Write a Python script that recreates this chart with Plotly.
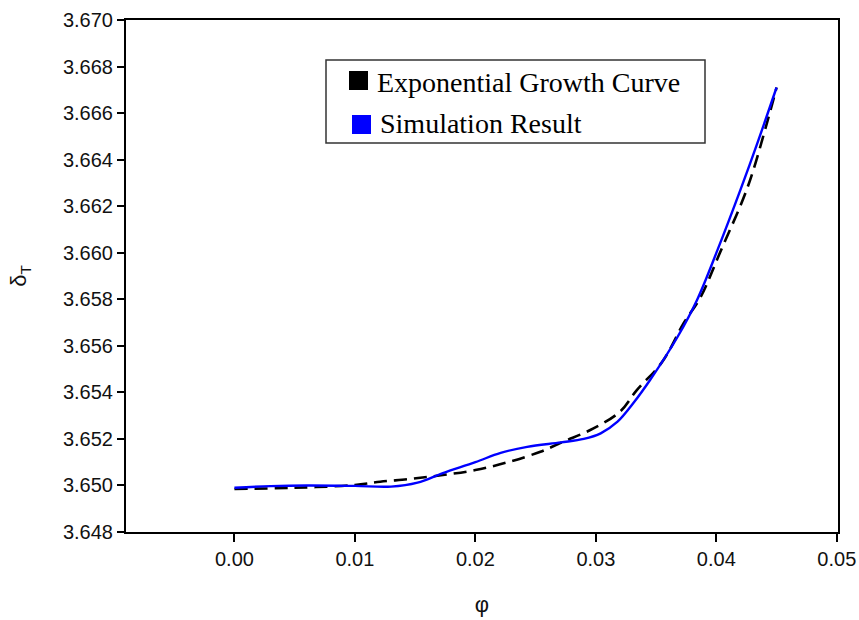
import plotly.graph_objects as go

# Simulation result: delta_T versus phi
sim_phi = [0.000, 0.003, 0.006, 0.010, 0.013, 0.0152, 0.0173, 0.0200, 0.0221,
           0.0243, 0.0271, 0.0290, 0.0304, 0.0318, 0.0331, 0.0345, 0.0368,
           0.0384, 0.0401, 0.0420, 0.0434, 0.0450]
sim_delta = [3.64990, 3.64997, 3.65000, 3.64998, 3.64995, 3.65012, 3.65053,
             3.65100, 3.65140, 3.65166, 3.65185, 3.65200, 3.65224, 3.65274,
             3.65353, 3.65453, 3.65640, 3.65797, 3.66012, 3.66270, 3.66470,
             3.66710]

# Fitted exponential growth curve
fit_phi = [0.000, 0.005, 0.010, 0.0121, 0.0146, 0.0173, 0.0200, 0.0227,
           0.0254, 0.0273, 0.0298, 0.0320, 0.0334, 0.0355, 0.0373, 0.0387,
           0.0403, 0.0426, 0.0442, 0.0450]
fit_delta = [3.64985, 3.64990, 3.65002, 3.65016, 3.65028, 3.65045, 3.65066,
             3.65100, 3.65145, 3.65188, 3.65245, 3.65317, 3.65410, 3.65530,
             3.65698, 3.65810, 3.66000, 3.66282, 3.66557, 3.66710]

x_ticks = [0.00, 0.01, 0.02, 0.03, 0.04, 0.05]
y_ticks = [3.648, 3.650, 3.652, 3.654, 3.656, 3.658, 3.660, 3.662, 3.664,
           3.666, 3.668, 3.670]

series_names = ["Exponential Growth Curve", "Simulation Result"]
series_colors = ["#000000", "#0000ff"]

W, H = 859, 620
M_L, M_R, M_T, M_B = 126, 21, 20, 88
PW, PH = W - M_L - M_R, H - M_T - M_B


def px(x):
    """horizontal pixel -> paper fraction"""
    return (x - M_L) / PW


def py(y):
    """vertical pixel (from top) -> paper fraction"""
    return (H - M_B - y) / PH


fig = go.Figure()

fig.add_trace(go.Scatter(
    x=fit_phi, y=fit_delta, mode="lines", line_shape="spline",
    name=series_names[0], showlegend=False,
    line=dict(color=series_colors[0], width=2.6, dash="13px,7px"),
))
fig.add_trace(go.Scatter(
    x=sim_phi, y=sim_delta, mode="lines", line_shape="spline",
    name=series_names[1], showlegend=False,
    line=dict(color=series_colors[1], width=2.4),
))

# boxed key with square swatches
shapes = [dict(type="rect", xref="paper", yref="paper",
               x0=px(326), x1=px(705), y0=py(143), y1=py(60),
               line=dict(color="#333", width=1.5), fillcolor="white", layer="above")]
annotations = []
key_rows = [(349, 71, 82), (352, 115, 123)]  # swatch left, swatch top, text centre
for (sx, sy, ty), name, color in zip(key_rows, series_names, series_colors):
    shapes.append(dict(type="rect", xref="paper", yref="paper",
                       x0=px(sx), x1=px(sx + 19), y0=py(sy + 19), y1=py(sy),
                       line=dict(width=0), fillcolor=color, layer="above"))
    annotations.append(dict(
        xref="paper", yref="paper", x=px(sx + 26), y=py(ty),
        xanchor="left", yanchor="middle", showarrow=False, text=name,
        font=dict(family="Liberation Serif, Times New Roman, serif", size=28, color="#000"),
    ))

fig.update_layout(
    width=W, height=H,
    margin=dict(l=M_L, r=M_R, t=M_T, b=M_B),
    plot_bgcolor="white", paper_bgcolor="white",
    font=dict(family="Liberation Sans, Arial, sans-serif", size=20, color="#111"),
    showlegend=False,
    shapes=shapes,
    annotations=annotations,
)

fig.update_xaxes(
    range=[-0.009, 0.0501], tickvals=x_ticks, tickformat=".2f",
    ticks="outside", ticklen=8, tickwidth=1.5, tickcolor="#000",
    showline=True, linecolor="#000", linewidth=2, mirror=True,
    showgrid=False, zeroline=False, automargin=False,
    title=dict(text="φ", font=dict(size=22), standoff=28),
)
fig.update_yaxes(
    range=[3.648, 3.670], tickvals=y_ticks, tickformat=".3f",
    ticks="outside", ticklen=7, tickwidth=1.5, tickcolor="#000",
    showline=True, linecolor="#000", linewidth=2, mirror=True,
    showgrid=False, zeroline=False, automargin=False,
    title=dict(text="δ<sub>T</sub>", font=dict(size=22), standoff=30),
)

fig.write_html("out.html")
